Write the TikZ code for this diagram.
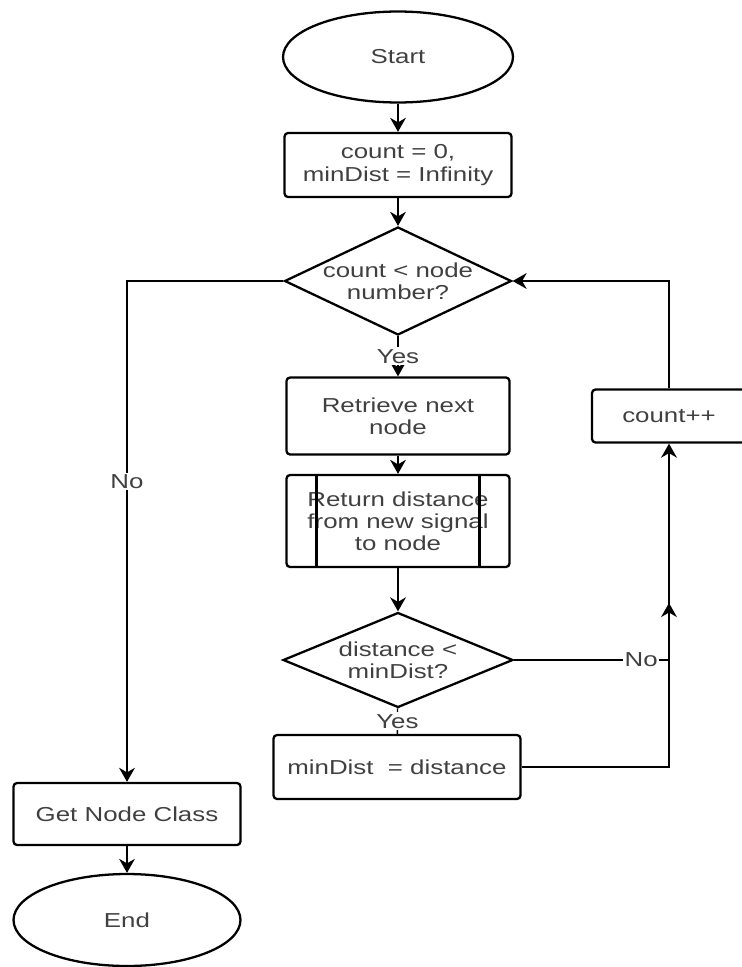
\documentclass[tikz,border=0pt]{standalone}
\usepackage{fontspec}
\setmainfont{Liberation Sans}[FakeStretch=1.28]
\usetikzlibrary{shapes.geometric, arrows.meta}

\begin{document}
\begin{tikzpicture}[x=0.02cm, y=-0.02cm,
        every node/.style={font=\fontsize{11.5}{12.6}\selectfont, text=black!75, align=center},
        terminal/.style={draw=black, ellipse, line width=1.3pt, minimum width=4.6cm, minimum height=1.82cm},
        process/.style={draw=black, rectangle, rounded corners=2pt, line width=1.3pt, inner sep=0pt},
        decision/.style={draw=black, diamond, line width=1.3pt, inner sep=0pt},
        flow/.style={line width=0.8pt, -{Stealth[length=8pt, width=9pt]}},
        link/.style={line width=0.8pt},
        tag/.style={fill=white, inner sep=1pt}]
        \useasboundingbox (0,0) rectangle (741,967);

        \node[terminal] (start) at (398,57) {Start};
        \node[process, minimum width=4.54cm, minimum height=1.28cm] (init) at (398,165) {count = 0,\\minDist = Infinity};
        \node[decision, minimum width=4.54cm, minimum height=2.16cm, label={center:{count < node\\number?}}] (check) at (398,281) {};
        \node[process, minimum width=4.46cm, minimum height=1.54cm] (fetch) at (398,416) {Retrieve next\\node};
        \node[process, minimum width=4.46cm, minimum height=1.84cm] (dist) at (398,521) {Return distance\\from new signal\\to node};
        \draw[line width=1.3pt] ([xshift=0.62cm]dist.north west) -- ([xshift=0.62cm]dist.south west);
        \draw[line width=1.3pt] ([xshift=-0.62cm]dist.north east) -- ([xshift=-0.62cm]dist.south east);
        \node[decision, minimum width=4.6cm, minimum height=1.9cm, label={center:{distance <\\minDist?}}] (compare) at (398,660) {};
        \node[process, minimum width=4.94cm, minimum height=1.28cm] (update) at (397,767) {minDist\ \ = distance};
        \node[process, minimum width=3.08cm, minimum height=1.06cm] (incr) at (669,416) {count++};
        \node[process, minimum width=4.54cm, minimum height=1.24cm] (classify) at (127,814) {Get Node Class};
        \node[terminal, minimum width=4.54cm, minimum height=1.84cm] (stop) at (127,920) {End};

        \draw[flow] (start) -- (init);
        \draw[flow] (init) -- (check);
        \draw[flow] (check) -- node[tag] {Yes} (fetch);
        \draw[flow] (fetch) -- (dist);
        \draw[flow] (dist) -- (compare);
        \draw[link] (compare) -- node[tag] {Yes} (update);
        \coordinate (join) at (compare.east -| incr.south);
        \coordinate (mid) at (669,603);
        \draw[link] (compare.east) -- node[tag, pos=0.82] {No} (join);
        \draw[flow] (update.east) -| (incr.south);
        \draw[flow] (join) -- (mid);
        \draw[flow] (incr.north) |- (check.east);
        \draw[flow] (check.west) -| node[tag, pos=0.7] {No} (classify.north);
        \draw[flow] (classify) -- (stop);
    \end{tikzpicture}
\end{document}
